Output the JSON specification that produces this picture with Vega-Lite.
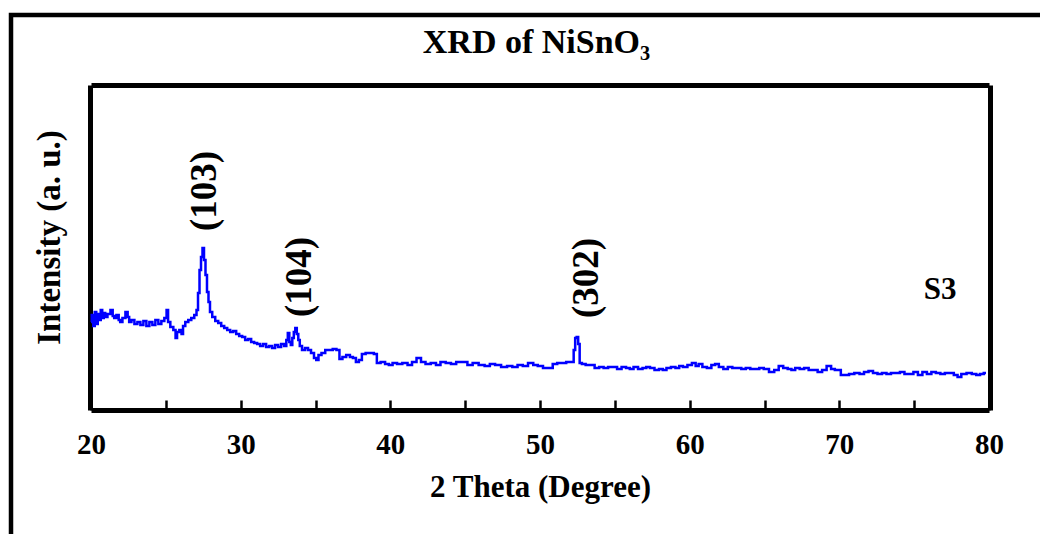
{
  "$schema": "https://vega.github.io/schema/vega-lite/v6.json",
  "width": 1029,
  "height": 519,
  "autosize": "none",
  "padding": {"left": 11, "top": 15, "right": 0, "bottom": 0},
  "background": "white",
  "config": {
    "view": {"stroke": "black", "strokeWidth": 4.5, "strokeDash": [1029, 1548, 519]},
    "font": "Liberation Serif"
  },
  "title": {
    "text": "XRD of NiSnO₃",
    "font": "Liberation Serif",
    "fontSize": 34,
    "fontWeight": "bold",
    "color": "black",
    "anchor": "middle",
    "baseline": "alphabetic",
    "offset": -37,
    "dx": 11,
    "dy": 35
  },
  "resolve": {"axis": {"x": "independent", "y": "independent"}},
  "layer": [
    {
      "data": {"values": [
        {"theta": 20.0, "intensity": 88}, {"theta": 20.1, "intensity": 95}, {"theta": 20.2, "intensity": 84},
        {"theta": 20.3, "intensity": 98}, {"theta": 20.4, "intensity": 86}, {"theta": 20.5, "intensity": 96},
        {"theta": 20.6, "intensity": 90}, {"theta": 20.7, "intensity": 100}, {"theta": 20.8, "intensity": 92},
        {"theta": 20.9, "intensity": 97}, {"theta": 21.0, "intensity": 93}, {"theta": 21.2, "intensity": 96},
        {"theta": 21.4, "intensity": 100}, {"theta": 21.5, "intensity": 94}, {"theta": 21.6, "intensity": 92},
        {"theta": 21.8, "intensity": 95}, {"theta": 21.9, "intensity": 90}, {"theta": 22.0, "intensity": 88},
        {"theta": 22.2, "intensity": 92}, {"theta": 22.4, "intensity": 98}, {"theta": 22.5, "intensity": 93},
        {"theta": 22.6, "intensity": 88}, {"theta": 22.8, "intensity": 90}, {"theta": 23.0, "intensity": 86},
        {"theta": 23.2, "intensity": 88}, {"theta": 23.4, "intensity": 85}, {"theta": 23.6, "intensity": 89},
        {"theta": 23.8, "intensity": 84}, {"theta": 24.0, "intensity": 88}, {"theta": 24.2, "intensity": 85},
        {"theta": 24.4, "intensity": 90}, {"theta": 24.6, "intensity": 86}, {"theta": 24.8, "intensity": 89},
        {"theta": 25.0, "intensity": 92}, {"theta": 25.1, "intensity": 100}, {"theta": 25.2, "intensity": 88},
        {"theta": 25.4, "intensity": 83}, {"theta": 25.6, "intensity": 80}, {"theta": 25.7, "intensity": 72},
        {"theta": 25.8, "intensity": 78}, {"theta": 26.0, "intensity": 80}, {"theta": 26.1, "intensity": 76},
        {"theta": 26.2, "intensity": 84}, {"theta": 26.4, "intensity": 88}, {"theta": 26.6, "intensity": 90},
        {"theta": 26.8, "intensity": 92}, {"theta": 27.0, "intensity": 95}, {"theta": 27.1, "intensity": 100},
        {"theta": 27.2, "intensity": 117}, {"theta": 27.3, "intensity": 140}, {"theta": 27.4, "intensity": 153},
        {"theta": 27.5, "intensity": 162}, {"theta": 27.6, "intensity": 150}, {"theta": 27.7, "intensity": 135},
        {"theta": 27.8, "intensity": 118}, {"theta": 27.9, "intensity": 108}, {"theta": 28.0, "intensity": 98},
        {"theta": 28.2, "intensity": 93}, {"theta": 28.4, "intensity": 89}, {"theta": 28.6, "intensity": 87},
        {"theta": 28.8, "intensity": 84}, {"theta": 29.0, "intensity": 82}, {"theta": 29.2, "intensity": 80},
        {"theta": 29.4, "intensity": 78}, {"theta": 29.6, "intensity": 79}, {"theta": 29.8, "intensity": 76},
        {"theta": 30.0, "intensity": 74}, {"theta": 30.2, "intensity": 73}, {"theta": 30.4, "intensity": 70},
        {"theta": 30.6, "intensity": 71}, {"theta": 30.8, "intensity": 68}, {"theta": 31.0, "intensity": 67},
        {"theta": 31.2, "intensity": 66}, {"theta": 31.4, "intensity": 64}, {"theta": 31.6, "intensity": 66},
        {"theta": 31.8, "intensity": 63}, {"theta": 32.0, "intensity": 64}, {"theta": 32.2, "intensity": 62},
        {"theta": 32.4, "intensity": 65}, {"theta": 32.6, "intensity": 63}, {"theta": 32.8, "intensity": 66},
        {"theta": 33.0, "intensity": 64}, {"theta": 33.1, "intensity": 70}, {"theta": 33.2, "intensity": 77},
        {"theta": 33.3, "intensity": 68}, {"theta": 33.4, "intensity": 65}, {"theta": 33.5, "intensity": 72},
        {"theta": 33.6, "intensity": 78}, {"theta": 33.7, "intensity": 82}, {"theta": 33.8, "intensity": 76},
        {"theta": 33.9, "intensity": 70}, {"theta": 34.0, "intensity": 64}, {"theta": 34.2, "intensity": 60},
        {"theta": 34.4, "intensity": 62}, {"theta": 34.6, "intensity": 60}, {"theta": 34.8, "intensity": 57},
        {"theta": 35.0, "intensity": 52}, {"theta": 35.1, "intensity": 50}, {"theta": 35.3, "intensity": 55},
        {"theta": 35.5, "intensity": 57}, {"theta": 35.8, "intensity": 60}, {"theta": 36.0, "intensity": 60},
        {"theta": 36.3, "intensity": 61}, {"theta": 36.5, "intensity": 60}, {"theta": 36.7, "intensity": 51},
        {"theta": 36.9, "intensity": 53}, {"theta": 37.2, "intensity": 55}, {"theta": 37.4, "intensity": 53},
        {"theta": 37.6, "intensity": 52}, {"theta": 37.8, "intensity": 48}, {"theta": 38.0, "intensity": 50},
        {"theta": 38.2, "intensity": 56}, {"theta": 38.5, "intensity": 57}, {"theta": 38.8, "intensity": 57},
        {"theta": 39.0, "intensity": 56}, {"theta": 39.2, "intensity": 47}, {"theta": 39.5, "intensity": 48},
        {"theta": 39.8, "intensity": 46}, {"theta": 40.0, "intensity": 45}, {"theta": 40.3, "intensity": 47},
        {"theta": 40.6, "intensity": 46}, {"theta": 41.0, "intensity": 47}, {"theta": 41.3, "intensity": 45},
        {"theta": 41.6, "intensity": 48}, {"theta": 41.9, "intensity": 52}, {"theta": 42.2, "intensity": 48},
        {"theta": 42.5, "intensity": 46}, {"theta": 42.9, "intensity": 47}, {"theta": 43.2, "intensity": 45},
        {"theta": 43.5, "intensity": 48}, {"theta": 43.9, "intensity": 47}, {"theta": 44.2, "intensity": 46},
        {"theta": 44.6, "intensity": 48}, {"theta": 45.0, "intensity": 48}, {"theta": 45.3, "intensity": 45},
        {"theta": 45.7, "intensity": 47}, {"theta": 46.1, "intensity": 45}, {"theta": 46.5, "intensity": 44},
        {"theta": 46.8, "intensity": 46}, {"theta": 47.2, "intensity": 45}, {"theta": 47.6, "intensity": 43},
        {"theta": 48.0, "intensity": 44}, {"theta": 48.3, "intensity": 43}, {"theta": 48.7, "intensity": 45},
        {"theta": 49.0, "intensity": 44}, {"theta": 49.4, "intensity": 47}, {"theta": 49.7, "intensity": 45},
        {"theta": 50.0, "intensity": 44}, {"theta": 50.4, "intensity": 42}, {"theta": 50.7, "intensity": 42},
        {"theta": 51.0, "intensity": 46}, {"theta": 51.3, "intensity": 47}, {"theta": 51.6, "intensity": 47},
        {"theta": 51.9, "intensity": 48}, {"theta": 52.2, "intensity": 48}, {"theta": 52.3, "intensity": 60},
        {"theta": 52.4, "intensity": 72}, {"theta": 52.5, "intensity": 73}, {"theta": 52.6, "intensity": 66},
        {"theta": 52.7, "intensity": 47}, {"theta": 52.9, "intensity": 46}, {"theta": 53.2, "intensity": 45},
        {"theta": 53.5, "intensity": 45}, {"theta": 53.8, "intensity": 42}, {"theta": 54.1, "intensity": 43},
        {"theta": 54.4, "intensity": 42}, {"theta": 54.7, "intensity": 43}, {"theta": 55.0, "intensity": 43},
        {"theta": 55.3, "intensity": 41}, {"theta": 55.6, "intensity": 43}, {"theta": 55.9, "intensity": 42},
        {"theta": 56.1, "intensity": 41}, {"theta": 56.4, "intensity": 43}, {"theta": 56.7, "intensity": 41},
        {"theta": 57.0, "intensity": 42}, {"theta": 57.2, "intensity": 43}, {"theta": 57.5, "intensity": 42},
        {"theta": 57.8, "intensity": 40}, {"theta": 58.1, "intensity": 41}, {"theta": 58.3, "intensity": 40},
        {"theta": 58.6, "intensity": 42}, {"theta": 58.9, "intensity": 43}, {"theta": 59.2, "intensity": 42},
        {"theta": 59.4, "intensity": 44}, {"theta": 59.7, "intensity": 43}, {"theta": 60.0, "intensity": 45},
        {"theta": 60.3, "intensity": 47}, {"theta": 60.5, "intensity": 44}, {"theta": 60.7, "intensity": 46},
        {"theta": 61.0, "intensity": 43}, {"theta": 61.3, "intensity": 42}, {"theta": 61.6, "intensity": 45},
        {"theta": 61.8, "intensity": 46}, {"theta": 62.1, "intensity": 43}, {"theta": 62.4, "intensity": 41},
        {"theta": 62.7, "intensity": 43}, {"theta": 63.0, "intensity": 42}, {"theta": 63.3, "intensity": 42},
        {"theta": 63.6, "intensity": 41}, {"theta": 63.9, "intensity": 42}, {"theta": 64.2, "intensity": 41},
        {"theta": 64.5, "intensity": 41}, {"theta": 64.8, "intensity": 42}, {"theta": 65.1, "intensity": 41},
        {"theta": 65.5, "intensity": 38}, {"theta": 65.8, "intensity": 40}, {"theta": 66.1, "intensity": 44},
        {"theta": 66.4, "intensity": 42}, {"theta": 66.7, "intensity": 41}, {"theta": 66.9, "intensity": 40},
        {"theta": 67.2, "intensity": 42}, {"theta": 67.5, "intensity": 41}, {"theta": 67.8, "intensity": 42},
        {"theta": 68.1, "intensity": 40}, {"theta": 68.4, "intensity": 40}, {"theta": 68.7, "intensity": 38},
        {"theta": 69.0, "intensity": 40}, {"theta": 69.3, "intensity": 44}, {"theta": 69.6, "intensity": 41},
        {"theta": 69.8, "intensity": 40}, {"theta": 70.0, "intensity": 40}, {"theta": 70.2, "intensity": 35},
        {"theta": 70.5, "intensity": 35}, {"theta": 70.8, "intensity": 36}, {"theta": 71.2, "intensity": 37},
        {"theta": 71.5, "intensity": 36}, {"theta": 71.8, "intensity": 38}, {"theta": 72.1, "intensity": 39},
        {"theta": 72.4, "intensity": 37}, {"theta": 72.7, "intensity": 36}, {"theta": 73.0, "intensity": 37},
        {"theta": 73.3, "intensity": 36}, {"theta": 73.6, "intensity": 37}, {"theta": 73.9, "intensity": 37},
        {"theta": 74.2, "intensity": 38}, {"theta": 74.5, "intensity": 36}, {"theta": 74.8, "intensity": 36},
        {"theta": 75.1, "intensity": 38}, {"theta": 75.4, "intensity": 35}, {"theta": 75.7, "intensity": 38},
        {"theta": 76.0, "intensity": 36}, {"theta": 76.3, "intensity": 38}, {"theta": 76.6, "intensity": 37},
        {"theta": 76.9, "intensity": 36}, {"theta": 77.2, "intensity": 37}, {"theta": 77.5, "intensity": 37},
        {"theta": 77.8, "intensity": 35}, {"theta": 78.0, "intensity": 33}, {"theta": 78.3, "intensity": 36},
        {"theta": 78.7, "intensity": 37}, {"theta": 79.0, "intensity": 36}, {"theta": 79.3, "intensity": 35},
        {"theta": 79.5, "intensity": 36}, {"theta": 79.8, "intensity": 37}
      ]},
      "mark": {"type": "line", "interpolate": "step", "color": "#0000FF", "strokeWidth": 2.5},
      "encoding": {
        "x": {
          "field": "theta", "type": "quantitative",
          "scale": {"domain": [20, 80], "range": [80, 978], "nice": false, "zero": false},
          "axis": {
            "orient": "bottom", "offset": -124,
            "values": [20, 25, 30, 35, 40, 45, 50, 55, 60, 65, 70, 75, 80],
            "labelExpr": "datum.value % 10 === 0 ? datum.label : ''",
            "grid": false,
            "domainColor": "black", "domainWidth": 5,
            "tickColor": "black", "tickWidth": 2.5, "tickSize": -10,
            "labelFont": "Liberation Serif", "labelFontSize": 29, "labelFontWeight": "bold", "labelColor": "black",
            "labelPadding": 30, "labelBound": false, "labelOverlap": false, "labelFlush": false,
            "title": "2 Theta (Degree)",
            "titleFont": "Liberation Serif", "titleFontSize": 31, "titleFontWeight": "bold", "titleColor": "black",
            "titlePadding": 13
          }
        },
        "y": {
          "field": "intensity", "type": "quantitative",
          "scale": {"domain": [0, 325], "range": [395, 70], "nice": false, "zero": false},
          "axis": {
            "orient": "left", "offset": -79,
            "grid": false, "ticks": false, "labels": false,
            "domainColor": "black", "domainWidth": 5,
            "title": "Intensity (a. u.)",
            "titleFont": "Liberation Serif", "titleFontSize": 33, "titleFontWeight": "bold", "titleColor": "black",
            "titlePadding": 24, "titleY": 222
          }
        }
      }
    },
    {
      "data": {"values": [
        {"theta": 27.62, "intensity": 219, "label": "(103)"},
        {"theta": 33.96, "intensity": 133, "label": "(104)"},
        {"theta": 53.14, "intensity": 132, "label": "(302)"}
      ]},
      "mark": {"type": "text", "angle": 270, "align": "center", "baseline": "middle", "font": "Liberation Serif", "fontSize": 37, "fontWeight": "bold", "color": "black"},
      "encoding": {
        "x": {
          "field": "theta", "type": "quantitative",
          "axis": {"orient": "top", "offset": -70, "grid": false, "ticks": false, "labels": false, "domainColor": "black", "domainWidth": 5, "title": null}
        },
        "y": {
          "field": "intensity", "type": "quantitative",
          "axis": {"orient": "right", "offset": -50, "grid": false, "ticks": false, "labels": false, "domainColor": "black", "domainWidth": 5, "title": null}
        },
        "text": {"field": "label"}
      }
    },
    {
      "data": {"values": [
        {"theta": 76.73, "intensity": 120, "label": "S3"}
      ]},
      "mark": {"type": "text", "align": "center", "baseline": "middle", "font": "Liberation Serif", "fontSize": 31, "fontWeight": "bold", "color": "black"},
      "encoding": {
        "x": {"field": "theta", "type": "quantitative", "axis": null},
        "y": {"field": "intensity", "type": "quantitative", "axis": null},
        "text": {"field": "label"}
      }
    }
  ]
}
